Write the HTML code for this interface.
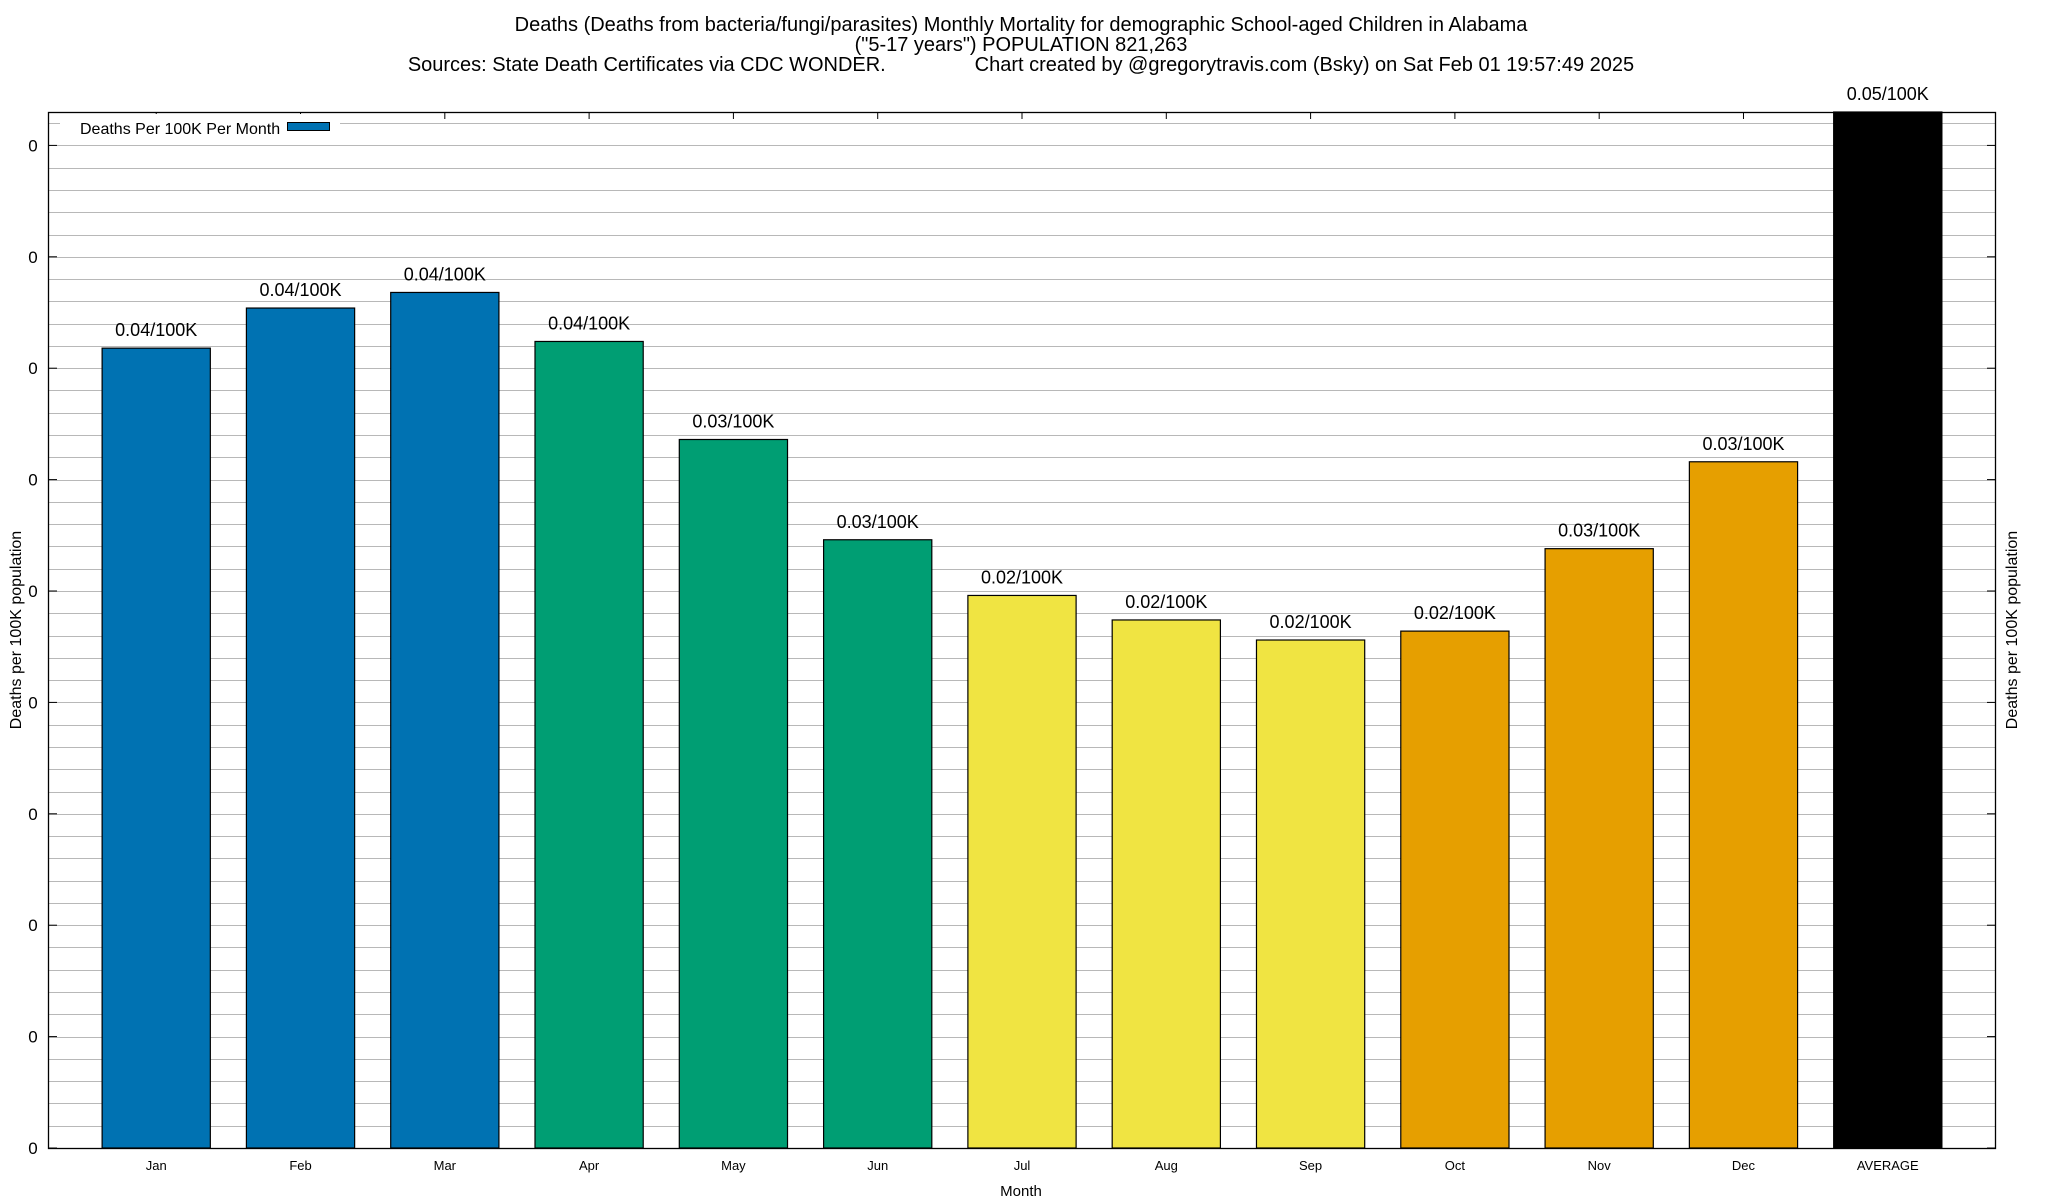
<!DOCTYPE html>
<html><head><meta charset="utf-8"><style>
html,body{margin:0;padding:0;background:#fff;}
svg{display:block;font-family:"Liberation Sans",sans-serif;}
</style></head><body>
<svg id="chart" width="2048" height="1200" viewBox="0 0 2048 1200">
<g font-size="20" text-anchor="middle" fill="#000">
<text x="1021" y="31">Deaths (Deaths from bacteria/fungi/parasites) Monthly Mortality for demographic School-aged Children in Alabama</text>
<text x="1021" y="51">("5-17 years") POPULATION 821,263</text>
<text x="1021" y="71" xml:space="preserve">Sources: State Death Certificates via CDC WONDER.                Chart created by @gregorytravis.com (Bsky) on Sat Feb 01 19:57:49 2025</text>
</g>
<g id="grid"></g>
<g id="bars"></g>
<g id="axes"></g>
<g>
<rect x="60" y="114" width="280" height="22" fill="#fff"/>
<text x="80" y="134" font-size="16">Deaths Per 100K Per Month</text>
<rect x="287.5" y="122.5" width="42" height="8" fill="#0072b2" stroke="#000" stroke-width="1"/>
</g>
<text x="1021" y="1196" font-size="15" text-anchor="middle">Month</text>
<text transform="translate(21,630) rotate(-90)" font-size="16" text-anchor="middle">Deaths per 100K population</text>
<text transform="translate(2017,630) rotate(-90)" font-size="16" text-anchor="middle">Deaths per 100K population</text>
</svg>
<script>
const categories = ["Jan","Feb","Mar","Apr","May","Jun","Jul","Aug","Sep","Oct","Nov","Dec","AVERAGE"];
const values = [0.0359,0.0377,0.0384,0.0362,0.0318,0.0273,0.0248,0.0237,0.0228,0.0232,0.0269,0.0308,0.05];
const valueLabels = ["0.04/100K","0.04/100K","0.04/100K","0.04/100K","0.03/100K","0.03/100K","0.02/100K","0.02/100K","0.02/100K","0.02/100K","0.03/100K","0.03/100K","0.05/100K"];
const barColors = ["#0072b2","#0072b2","#0072b2","#009e73","#009e73","#009e73","#f0e442","#f0e442","#f0e442","#e69f00","#e69f00","#e69f00","#000000"];
const yTicks = [0,0.005,0.01,0.015,0.02,0.025,0.03,0.035,0.04,0.045];
const yTickLabels = ["0","0","0","0","0","0","0","0","0","0"];

const NS="http://www.w3.org/2000/svg";
const L=48,R=1996,T=112,B=1148;
const xMin=-0.75,xMax=12.75,yMin=0,yMax=0.005*(B-T)/111.4;
function xs(i){return L+(i-xMin)/(xMax-xMin)*(R-L);}
function ys(v){return B-(v-yMin)/(yMax-yMin)*(B-T);}
function mk(tag,attrs,parent){const e=document.createElementNS(NS,tag);for(const k in attrs)e.setAttribute(k,attrs[k]);parent.appendChild(e);return e;}
const grid=document.getElementById('grid'),bars=document.getElementById('bars'),axes=document.getElementById('axes');
for(let k=1;;k++){const v=k*0.001;const y=ys(v);if(y<T+1)break;
 const g=mk('line',{x1:L,x2:R,y1:Math.round(y)+0.5,y2:Math.round(y)+0.5,stroke:'#b8b8b8','stroke-width':1},grid);
 
 }
const bw=0.75;
categories.forEach((c,i)=>{
 const x0=xs(i-bw/2),x1=xs(i+bw/2);
 const top=Math.max(ys(values[i]),T);
 const r=mk('rect',{x:x0,y:top,width:x1-x0,height:B-top,fill:barColors[i],stroke:'#000','stroke-width':1.2},bars);
 
 
 const t=mk('text',{x:xs(i),y:top-12,'font-size':18,'text-anchor':'middle'},bars);
 t.textContent=valueLabels[i];
 
 
 const xl=mk('text',{x:xs(i),y:B+22,'font-size':13,'text-anchor':'middle'},axes);
 xl.textContent=c;
 
 
 const tk=mk('line',{x1:xs(i),x2:xs(i),y1:T,y2:T+7,stroke:'#000','stroke-width':1},axes);
 
 
});
yTicks.forEach((v,i)=>{
 const y=ys(v);
 const t=mk('text',{x:33,y:y+6,'font-size':17,'text-anchor':'middle'},axes);
 t.textContent=yTickLabels[i];
 
 
 const a=mk('line',{x1:L,x2:L+9,y1:y,y2:y,stroke:'#000'},axes);
 
 
 const b=mk('line',{x1:R-9,x2:R,y1:y,y2:y,stroke:'#000'},axes);
 
 
});
const fr=mk('rect',{x:L+0.5,y:T+0.5,width:R-L-1,height:B-T,fill:'none',stroke:'#000','stroke-width':1.3},axes);


</script>
</body></html>
